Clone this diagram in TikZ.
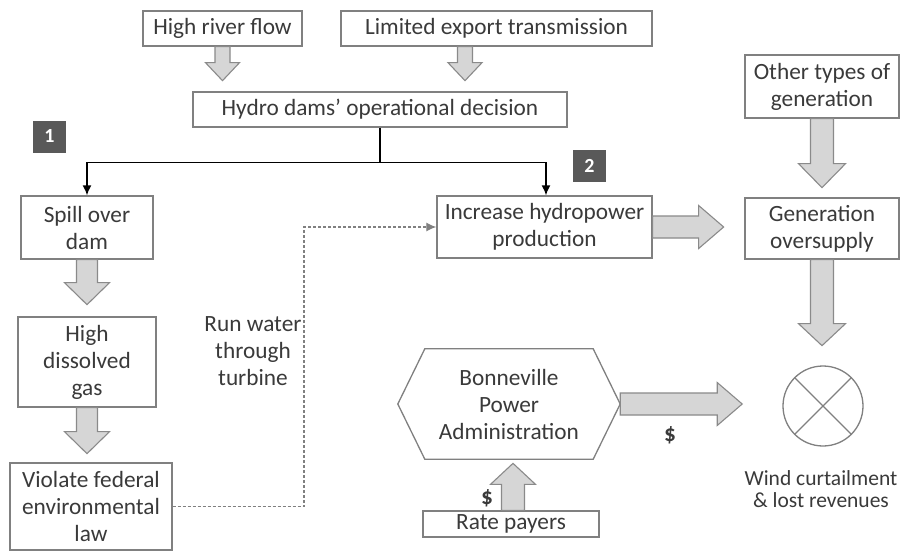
\documentclass[tikz,border=0pt]{standalone}
\usepackage{fontspec}
\setmainfont{Carlito}
\usetikzlibrary{calc,arrows.meta}
\definecolor{boxline}{HTML}{808080}
\definecolor{arrfill}{HTML}{D6D6D6}
\definecolor{arrline}{HTML}{8A8A8A}
\definecolor{badgefill}{HTML}{595959}
\definecolor{txt}{HTML}{3A3A3A}
\tikzset{
  box/.style={draw=boxline, line width=1.3pt, align=center, inner sep=2pt, text=txt},
  badgebox/.style={fill=badgefill, text=white, font=\fontsize{20}{20}\selectfont\bfseries, minimum width=33pt, minimum height=32pt, inner sep=0pt},
  blockarr/.style={fill=arrfill, draw=arrline, line width=1.1pt, line join=miter},
  conn/.style={line width=1.6pt, black, -{Latex[length=10pt,width=9pt]}},
  dashconn/.style={line width=1.2pt, draw=gray, dash pattern=on 3pt off 2pt, -{Latex[length=10pt,width=9pt]}},
  plain/.style={text=txt, align=center, inner sep=0pt}
}
\newcommand{\blockarrow}[5]{%
  \path (#2) coordinate (bat) ($(#2)!#5!(#1)$) coordinate (ban) (#1) coordinate (bas);
  \draw[blockarr] ($(bas)!#3!90:(bat)$) -- ($(ban)!#3!90:(bat)$) -- ($(ban)!#4!90:(bat)$) -- (bat)
     -- ($(ban)!#4!-90:(bat)$) -- ($(ban)!#3!-90:(bat)$) -- ($(bas)!#3!-90:(bat)$) -- cycle;
}
\begin{document}
\begin{tikzpicture}[x=1pt, y=-1pt, font=\fontsize{23.3}{27}\selectfont]
\useasboundingbox (0,0) rectangle (902,552);
\fill[white] (0,0) rectangle (902,552);

% boxes
\node[box, minimum width=159pt, minimum height=35pt] (hrf) at (222.5,28.5) {High river flow};
\node[box, minimum width=311pt, minimum height=35pt] (let) at (496.5,28.5) {Limited export transmission};
\node[box, minimum width=374pt, minimum height=35pt] (hyd) at (380,109.5) {Hydro dams’ operational decision};
\node[box, minimum width=132pt, minimum height=63pt] (spill) at (87,227.5) {Spill over\\dam};
\node[box, minimum width=138pt, minimum height=90pt] (gas) at (87,362) {High\\dissolved\\gas};
\node[box, minimum width=162pt, minimum height=87pt] (viol) at (91,506.5) {Violate federal\\environmental\\law};
\node[box, minimum width=215pt, minimum height=62pt] (inc) at (544.5,227) {Increase hydropower\\production};
\node[box, minimum width=154pt, minimum height=63pt] (other) at (822,86.5) {Other types of\\generation};
\node[box, minimum width=154pt, minimum height=61pt] (over) at (822,228.5) {Generation\\oversupply};
\node[box, minimum width=176pt, minimum height=26pt] (rate) at (511,524) {Rate payers};

% hexagon
\node[plain, minimum width=222pt, minimum height=110pt] (bpa) at (509,404) {Bonneville\\Power\\Administration};
\draw[draw=boxline, line width=1.3pt] ($(bpa.north west)+(27,0)$) -- ($(bpa.north east)+(-27,0)$) -- (bpa.east)
  -- ($(bpa.south east)+(-27,0)$) -- ($(bpa.south west)+(27,0)$) -- (bpa.west) -- cycle;

% circle with cross
\node[circle, draw=boxline, line width=1.3pt, minimum size=80pt, inner sep=0pt] (wc) at (823,406) {};
\draw[boxline, line width=1.1pt] (wc.north west) -- (wc.south east) (wc.north east) -- (wc.south west);
\node[plain, anchor=north, font=\fontsize{21.5}{22}\selectfont] (wct) at (821,470) {Wind curtailment\\\& lost revenues};

% badges
\node[badgebox] (b1) at (49.5,136.5) {1};
\node[badgebox] (b2) at (589.5,166) {2};

% texts
\node[plain] (run) at (253,351) {Run water\\through\\turbine};
\node[plain, font=\fontsize{23.3}{27}\selectfont\bfseries] (d1) at (670,435) {\$};
\node[plain, font=\fontsize{23.3}{27}\selectfont\bfseries] (d2) at (487,498) {\$};

% black connectors
\draw[line width=1.6pt] (hyd.south) -- ++(0,35) coordinate (junc);
\draw[conn] (junc) -| (spill.north);
\draw[conn] (junc) -| ($(inc.north)+(1.5,0)$);

% dashed connector
\coordinate (bend) at (304,0);
\draw[dashconn] (viol.east) -| (bend |- inc.west) -- (inc.west);

% block arrows
\blockarrow{hrf.south}{$(hrf.south)+(0,34)$}{7.5pt}{17pt}{18pt}
\blockarrow{$(let.south)+(-31.5,0)$}{$(let.south)+(-31.5,34)$}{7.5pt}{17pt}{18pt}
\blockarrow{spill.south}{$(spill.south)+(0,45)$}{10.5pt}{22.5pt}{22pt}
\blockarrow{gas.south}{$(gas.south)+(0,46)$}{10.5pt}{22.5pt}{22pt}
\blockarrow{other.south}{$(other.south)+(0,69)$}{11.5pt}{23.5pt}{24pt}
\blockarrow{over.south}{$(over.south)+(0,86)$}{11.5pt}{23.5pt}{22pt}
\blockarrow{inc.east}{$(inc.east)+(71,0)$}{11pt}{21.5pt}{25pt}
\blockarrow{bpa.east}{$(bpa.east)+(122,0)$}{11pt}{21.5pt}{25pt}
\blockarrow{$(rate.north)+(2,0)$}{$(rate.north)+(2,-47)$}{11.5pt}{22.5pt}{21pt}
\end{tikzpicture}
\end{document}
